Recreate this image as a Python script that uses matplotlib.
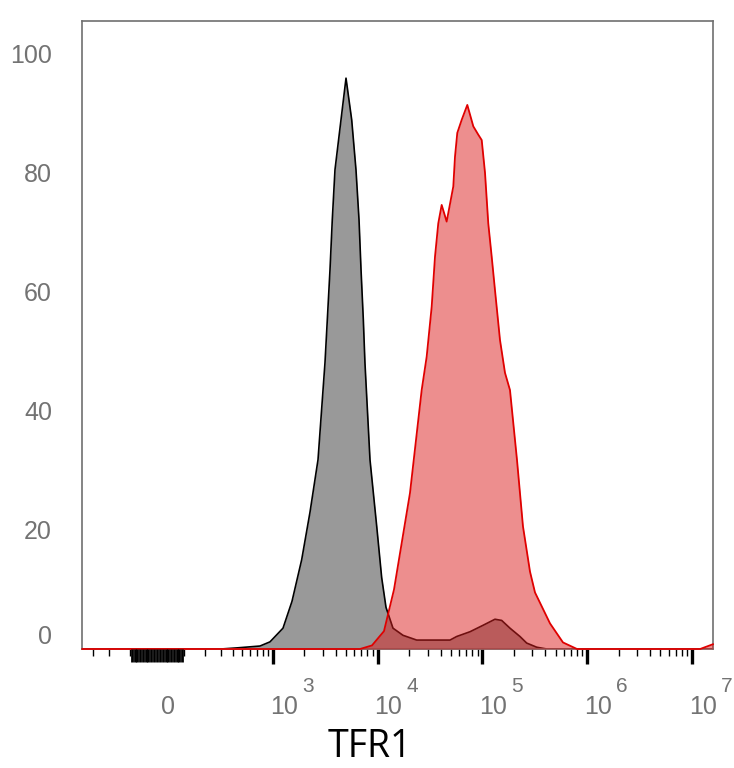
import matplotlib
matplotlib.use("Agg")
import matplotlib.pyplot as plt
from matplotlib.transforms import blended_transform_factory, ScaledTranslation
from matplotlib.ticker import NullFormatter

# Histogram outlines: TFR1 intensity vs % of max
control_x = [-390, 300, 452, 747, 934, 1247, 1521, 1884, 2264, 2700,
             3148, 3313, 3515, 3696, 3922, 4477, 4999,
             5665, 6225, 6655, 6955, 7316, 7580,
             8470, 9820, 10950, 12040, 14040, 17500, 23640, 49170, 56950,
             76300, 102100, 132100, 153100, 183700, 228900, 265100, 330500, 412000, 1.59e7]
control_y = [0, 0, 0.2, 0.5, 1.2, 3.5, 8, 15, 23, 31.8,
             48.1, 55.3, 63.7, 72.1, 80.5, 88.9, 95.9,
             88.9, 80.5, 72.1, 63.7, 55.3, 48.1,
             31.8, 20.6, 12, 7, 3.5, 2.3, 1.5, 1.5, 2.1,
             2.9, 4.0, 5.0, 4.8, 3.5, 2.1, 1.0, 0.3, 0, 0]

tfr1_x = [-390, 6800, 8850, 11520, 14360, 20400,
          26380, 29440, 32870, 35350, 37990, 40940, 45690,
          52850, 54860, 57700, 63580, 71910, 82050, 91560, 98680,
          106100, 114000, 122900, 132100, 147500, 164600, 183700,
          214200, 244400, 285200, 318300, 442800, 589000, 801500, 1.2e7, 1.59e7]
tfr1_y = [0, 0, 0.6, 3, 10, 26.2,
          43.5, 49.1, 57.5, 65.9, 71.5, 74.6, 71.8,
          77.7, 82.7, 86.7, 88.9, 91.4, 87.8, 86.4, 85.5,
          80, 71.5, 65.9, 60.3, 51.9, 46.4, 43.5,
          31.8, 20.6, 13, 9.5, 4.3, 1.1, 0, 0, 0.8]

# axis ticks
decades = [1e3, 1e4, 1e5, 1e6, 1e7]
exponents = ['3', '4', '5', '6', '7']
near_zero = [v for v in range(-90, 100, 10)]
minor_ticks = [-300, -200, -100, 100] + [k * 10 ** e for e in range(2, 7) for k in range(2, 10)]
y_ticks = [0, 20, 40, 60, 80, 100]

label_color = '#737373'
x_limits = (-393, 1.592e7)

fig = plt.figure(figsize=(7.34, 7.68), dpi=100)
ax = fig.add_axes([82 / 734, 1 - 649 / 768, 631 / 734, 628 / 768])
ax.set_xscale('asinh', linear_width=157)
ax.set_xlim(*x_limits)
ax.set_ylim(0, 105.5)

# control (grey) under TFR1 (red, translucent)
ax.fill_between(control_x, control_y, color='#999999', lw=0, zorder=1)
ax.plot(control_x, control_y, color='black', lw=1.2, zorder=2, solid_joinstyle='round')
ax.fill_between(tfr1_x, tfr1_y, color='#dc1e1e', alpha=0.5, lw=0, zorder=3)
ax.plot(tfr1_x, tfr1_y, color='#e00000', lw=1.3, zorder=4, clip_on=False,
        solid_joinstyle='round')

for s in ax.spines.values():
    s.set_color('#707070')
    s.set_linewidth(1.2)

# x ticks: thick decade ticks, thin minor ticks
ax.set_xticks(decades)
ax.set_xticks(minor_ticks, minor=True)
ax.xaxis.set_major_formatter(NullFormatter())
ax.xaxis.set_minor_formatter(NullFormatter())
ax.tick_params(axis='x', which='major', direction='out', length=10.5, width=2.4, color='black')
ax.tick_params(axis='x', which='minor', direction='out', length=5, width=1.0, color='black')

# dense block of ticks around zero on a twin axis with the same scale
ax2 = ax.twiny()
ax2.set_xscale('asinh', linear_width=157)
ax2.set_xlim(*x_limits)
ax2.set_xticks(near_zero)
ax2.set_xticks([], minor=True)
ax2.tick_params(axis='x', which='major', direction='out', length=9, width=2.0, color='black',
                bottom=True, top=False, labelbottom=False, labeltop=False)
for s in ax2.spines.values():
    s.set_visible(False)

trans = blended_transform_factory(ax.transData, ax.transAxes)


def shifted(dx, dy):
    return trans + ScaledTranslation(dx / 100, -dy / 100, fig.dpi_scale_trans)


ax.text(0, 0, '0', transform=shifted(11, 58), ha='center', va='center',
        fontsize=18, family='Liberation Sans', color=label_color)
for d, e in zip(decades, exponents):
    ax.text(d, 0, '10', transform=shifted(11, 58), ha='center', va='center',
            fontsize=18, family='Liberation Sans', color=label_color)
    ax.text(d, 0, e, transform=shifted(35, 38), ha='center', va='center',
            fontsize=15, family='Liberation Sans', color=label_color)

# y ticks
ax.set_yticks(y_ticks, labels=[''] + [str(v) for v in y_ticks[1:]])
ax.tick_params(axis='y', length=0, pad=21.6, labelsize=18, labelcolor=label_color)
for lab in ax.get_yticklabels():
    lab.set_family('Liberation Sans')
ytrans = blended_transform_factory(ax.transAxes, ax.transData) + \
    ScaledTranslation(-30 / 100, 12 / 100, fig.dpi_scale_trans)
ax.text(0, 0, '0', transform=ytrans, ha='right', va='center',
        fontsize=18, family='Liberation Sans', color=label_color)

fig.text(370 / 734, 1 - 757 / 768, 'TFR1', ha='center', va='baseline',
         fontsize=27, family='Open Sans', color='black')

fig.savefig('out.png', dpi=100)
